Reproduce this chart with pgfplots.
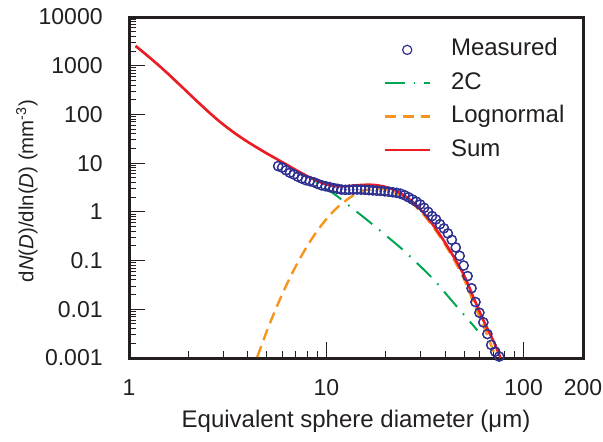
\documentclass[border=0pt]{standalone}
\usepackage{fontspec}
\setmainfont{Liberation Sans}
\usepackage{pgfplots}
\usepackage{pgfplotstable}
\pgfplotsset{compat=1.18}

\definecolor{axisgray}{HTML}{231F20}
\definecolor{measblue}{HTML}{2E3192}
\definecolor{twocgreen}{HTML}{00A651}
\definecolor{lnorange}{HTML}{F7941D}
\definecolor{sumred}{HTML}{ED1C24}

\pgfplotstableread{
D      N
5.70   8.71
5.97   8.11
6.25   7.13
6.55   6.34
6.85   5.85
7.18   5.25
7.52   4.82
7.87   4.47
8.24   4.27
8.63   4.06
9.04   3.75
9.46   3.51
9.91   3.36
10.38  3.22
10.86  3.09
11.38  2.98
11.91  2.87
12.47  2.83
13.06  2.85
13.68  2.87
14.32  2.88
15.00  2.86
15.70  2.83
16.44  2.80
17.22  2.76
18.03  2.72
18.88  2.69
19.77  2.64
20.70  2.59
21.68  2.53
22.70  2.46
23.77  2.36
24.89  2.20
26.06  2.00
27.29  1.80
28.58  1.62
29.92  1.42
31.33  1.21
32.81  1.00
34.36  0.82
35.97  0.70
37.67  0.557
39.45  0.459
41.30  0.361
43.25  0.267
45.29  0.186
47.42  0.125
49.66  0.079
52.00  0.048
54.45  0.027
57.02  0.0141
59.70  0.0085
62.50  0.0054
65.50  0.0031
68.50  0.00186
71.80  0.00135
75.20  0.00107
}\measured

\begin{document}
\begin{tikzpicture}
\path[use as bounding box] (-64.5pt,-41.5pt) rectangle (237pt,179pt);
\begin{axis}[
    at={(0,0)}, anchor=south west,
    scale only axis, width=227pt, height=170.5pt,
    xmode=log, ymode=log,
    xmin=1, xmax=200, ymin=0.001, ymax=10000,
    clip=false,
    xtick={1,10,100}, xticklabels={1,10,100},
    extra x ticks={200}, extra x tick labels={200},
    extra x tick style={major tick length=0pt},
    minor xtick={2,3,4,5,6,7,8,9,20,30,40,50,60,70,80,90},
    ytick={0.001,0.01,0.1,1,10,100,1000,10000},
    yticklabels={0.001,0.01,0.1,1,10,100,1000,10000},
    minor ytick={0.002,0.003,0.004,0.005,0.006,0.007,0.008,0.009,
                 0.02,0.03,0.04,0.05,0.06,0.07,0.08,0.09,
                 0.2,0.3,0.4,0.5,0.6,0.7,0.8,0.9,
                 2,3,4,5,6,7,8,9,
                 20,30,40,50,60,70,80,90,
                 200,300,400,500,600,700,800,900,
                 2000,3000,4000,5000,6000,7000,8000,9000},
    tick pos=left, tick align=inside,
    major tick length=8pt, minor tick length=3.5pt,
    tick style={line width=0.5pt, color=axisgray},
    axis line style={line width=1.5pt, color=axisgray},
    tick label style={font=\fontsize{11.5}{13}\selectfont, text=axisgray},
    xticklabel style={anchor=base, yshift=-18.5pt},
    yticklabel style={anchor=east, inner sep=0pt, xshift=-13pt},
    every axis x label/.style={at={(axis description cs:0.5,0)}, anchor=base, yshift=-34.5pt,
        font=\fontsize{12}{14}\selectfont, text=axisgray},
    every axis y label/.style={at={(axis description cs:-0.2247,0.49)}, rotate=90, anchor=center,
        font=\fontsize{10.2}{12}\selectfont, text=axisgray},
    xlabel={Equivalent sphere diameter (μm)},
    ylabel={d\textit{N}(\textit{D})/dln(\textit{D}) (mm\textsuperscript{-3})},
    legend image code/.code={\draw[mark repeat=2,mark phase=2,#1] plot coordinates {(0pt,0pt) (11.25pt,0pt) (22.5pt,0pt)};
        \path (32.5pt,0pt);},
    legend cell align=left,
    legend style={draw=none, fill=none, at={(axis description cs:0.5595,0.94)}, anchor=north west,
        inner sep=0pt, row sep=4.7pt, font=\fontsize{12}{14}\selectfont, text=axisgray,
        nodes={inner sep=0pt, text height=9pt, text depth=3pt}},
]

\addplot[only marks, mark=o, mark size=2.3pt, mark options={line width=0.6pt, draw=measblue}] table[x=D, y=N] {\measured};
\addlegendentry{Measured}

\addplot[twocgreen, line width=1pt, dash pattern=on 10pt off 4.5pt on 0.8pt off 4.5pt, smooth] coordinates {
    (1.08,2541) (1.122,2244) (1.259,1526) (1.413,1020) (1.585,670) (1.778,432.5)
    (1.995,277.6) (2.239,178.2) (2.512,115.7) (2.818,76.9) (3.162,52.9) (3.548,37.7)
    (3.981,27.6) (4.467,20.7) (5.012,15.7) (5.623,12.05) (6.310,9.23) (7.079,7.0)
    (7.943,5.32) (8.913,3.98) (10.0,2.97) (11.22,2.18) (12.59,1.50) (14.13,1.04)
    (15.85,0.716) (17.78,0.491) (19.95,0.333) (22.39,0.226) (25.12,0.151) (28.18,0.0966)
    (31.62,0.0618) (35.48,0.0385) (39.81,0.0223) (44.67,0.0129) (50.12,0.00753)
    (56.23,0.00440) (58.3,0.0037)
};
\addlegendentry{2C}

\addplot[lnorange, line width=1.2pt, dash pattern=on 5.8pt off 3.2pt, smooth] coordinates {
    (4.467,0.00105) (5.012,0.0037) (5.623,0.0116) (6.310,0.0328) (7.079,0.0832)
    (7.943,0.189) (8.913,0.387) (10.0,0.71) (11.22,1.17) (12.59,1.72) (14.13,2.35)
    (15.85,2.80) (17.78,3.0) (19.95,2.88) (22.39,2.45) (25.12,1.90) (28.18,1.32)
    (31.62,0.81) (35.48,0.44) (39.81,0.22) (44.67,0.099) (50.12,0.040)
    (56.23,0.0125) (63.10,0.0042) (70.79,0.0013) (72.4,0.00105)
};
\addlegendentry{Lognormal}

\addplot[sumred, line width=1.3pt, smooth] coordinates {
    (1.08,2541) (1.122,2244) (1.259,1526) (1.413,1020) (1.585,670) (1.778,432.5)
    (1.995,277.6) (2.239,178.2) (2.512,115.7) (2.818,76.9) (3.162,52.9) (3.548,37.7)
    (3.981,27.6) (4.467,20.7) (5.012,15.7) (5.623,12.06) (6.310,9.26) (7.079,7.08)
    (7.943,5.51) (8.913,4.37) (10.0,3.68) (11.22,3.35) (12.59,3.35) (14.13,3.50)
    (15.85,3.60) (17.78,3.55) (19.95,3.25) (22.39,2.75) (25.12,2.10) (28.18,1.45)
    (31.62,0.88) (35.48,0.48) (39.81,0.24) (44.67,0.112) (50.12,0.048)
    (56.23,0.016) (63.10,0.0055) (70.79,0.0021) (76.4,0.001)
};
\addlegendentry{Sum}

% circles again on top of the curves
\addplot[only marks, mark=o, mark size=2.3pt, mark options={line width=0.6pt, draw=measblue}, forget plot] table[x=D, y=N] {\measured};

\end{axis}
\end{tikzpicture}
\end{document}
